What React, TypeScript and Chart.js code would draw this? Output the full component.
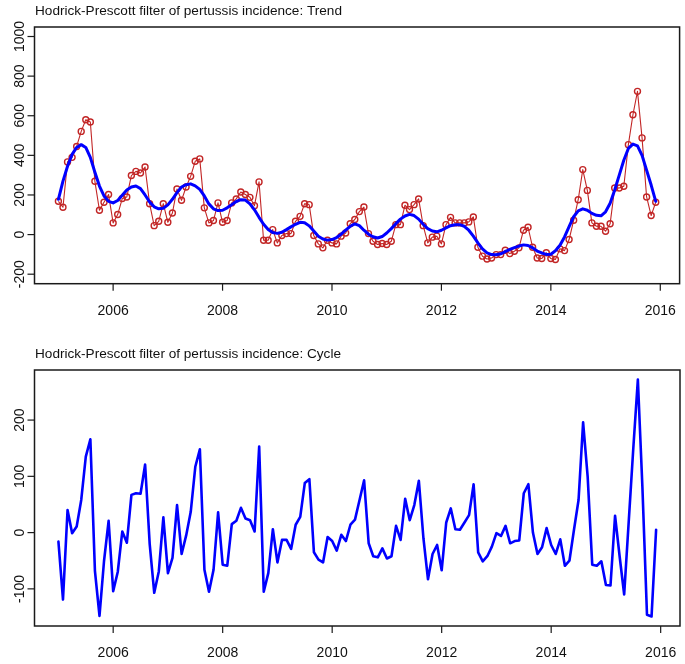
import React, { useEffect, useRef } from "react";
import { Chart, registerables } from "chart.js";

Chart.register(...registerables);

// Monthly time series (ts start = 2005, frequency = 12)
const START_YEAR = 2005;
const FREQUENCY = 12;

const observed = [
  168, 138, 367, 390, 445, 521, 580, 568, 269, 123, 163, 202,
  59, 101, 182, 190, 298, 319, 311, 341, 156, 45, 67, 156,
  62, 109, 230, 173, 240, 294, 370, 382, 135, 59, 71, 160,
  62, 71, 160, 180, 215, 202, 188, 146, 266, -29, -29, 25,
  -42, -5, 5, 5, 67, 92, 156, 151, -5, -47, -67, -29,
  -42, -47, -8, 8, 55, 76, 116, 139, 5, -34, -50, -45,
  -50, -34, 50, 50, 148, 126, 151, 180, 45, -42, -13, -8,
  -47, 50, 87, 59, 59, 59, 64, 89, -64, -109, -123, -118,
  -101, -101, -79, -96, -84, -67, 22, 37, -64, -118, -121, -92,
  -121, -126, -72, -81, -25, 72, 176, 328, 223, 59, 42, 42,
  17, 55, 235, 235, 244, 454, 605, 723, 488, 190, 96, 163,
];

const trend = [
  178, 270, 345, 405, 440, 454, 440, 390, 315, 245, 195, 168,
  160, 172, 198, 225, 240, 245, 232, 200, 165, 140, 130, 133,
  150, 178, 212, 240, 252, 256, 246, 228, 195, 155, 130, 121,
  123, 135, 151, 167, 176, 174, 155, 125, 87, 52, 26, 10,
  6, 12, 25, 39, 52, 62, 60, 44, 18, -8, -22, -28,
  -25, -15, 2, 22, 42, 54, 45, 22, 2, -11, -17, -10,
  8, 30, 55, 78, 94, 102, 96, 78, 52, 30, 18, 14,
  22, 34, 45, 50, 50, 42, 22, -8, -42, -72, -92, -101,
  -102, -97, -86, -75, -66, -58, -52, -55, -67, -83, -93, -100,
  -99, -82, -54, -12, 40, 90, 120, 130, 123, 107, 97, 95,
  115, 158, 225, 300, 375, 435, 457, 448, 400, 325, 250, 168,
];

const cycle = [
  -16, -119, 40, -1, 11, 58, 135, 166, -68, -148, -50, 21,
  -104, -70, 2, -18, 67, 70, 69, 121, -20, -107, -69, 27,
  -72, -45, 49, -38, -5, 37, 117, 148, -66, -105, -66, 36,
  -57, -59, 15, 21, 44, 25, 22, 2, 153, -105, -72, 6,
  -53, -13, -13, -29, 14, 28, 88, 95, -35, -48, -53, -8,
  -15, -32, -4, -15, 14, 23, 58, 93, -19, -42, -44, -28,
  -46, -42, 12, -13, 60, 22, 49, 92, -10, -83, -38, -22,
  -67, 18, 43, 6, 5, 18, 31, 86, -35, -51, -42, -25,
  -1, -6, 12, -19, -15, -14, 70, 86, 0, -38, -26, 8,
  -22, -38, -12, -59, -50, 5, 58, 196, 99, -57, -59, -51,
  -93, -94, 30, -42, -110, 20, 150, 272, 80, -146, -149, 5,
];

const xTicks = [2006, 2008, 2010, 2012, 2014, 2016];
const trendYTicks = [-200, 0, 200, 400, 600, 800, 1000];
const cycleYTicks = [-100, 0, 100, 200];

const X_RANGE = [2004.563, 2016.353];
const TREND_Y_RANGE = [-248, 1048];
const CYCLE_Y_RANGE = [-166, 289];

const TITLE_TREND = "Hodrick-Prescott filter of pertussis incidence: Trend";
const TITLE_CYCLE = "Hodrick-Prescott filter of pertussis incidence: Cycle";

const FONT_FAMILY = '"Liberation Sans", Arial, sans-serif';

function toPoints(values: number[]) {
  return values.map((v, i) => ({ x: START_YEAR + i / FREQUENCY, y: v }));
}

function rPlotPlugin(title: string, xt: number[], yt: number[]) {
  return {
    id: "rplot",
    afterDraw(chart: any) {
      const { ctx, chartArea: a } = chart;
      const xs = chart.scales.x;
      const ys = chart.scales.y;
      ctx.save();
      ctx.strokeStyle = "#1a1a1a";
      ctx.fillStyle = "#111";
      ctx.lineWidth = 1.5;
      ctx.strokeRect(a.left, a.top, a.right - a.left, a.bottom - a.top);
      ctx.lineWidth = 1.2;
      ctx.font = "14px " + FONT_FAMILY;
      ctx.textAlign = "center";
      ctx.textBaseline = "middle";
      xt.forEach((v) => {
        const px = xs.getPixelForValue(v);
        ctx.beginPath();
        ctx.moveTo(px, a.bottom);
        ctx.lineTo(px, a.bottom + 7);
        ctx.stroke();
        ctx.fillText(String(v), px, a.bottom + 27);
      });
      yt.forEach((v) => {
        const py = ys.getPixelForValue(v);
        ctx.beginPath();
        ctx.moveTo(a.left - 7, py);
        ctx.lineTo(a.left, py);
        ctx.stroke();
        ctx.save();
        ctx.translate(a.left - 14.5, py);
        ctx.rotate(-Math.PI / 2);
        ctx.fillText(String(v), 0, 0);
        ctx.restore();
      });
      ctx.font = "13.6px " + FONT_FAMILY;
      ctx.textAlign = "left";
      ctx.fillText(title, a.left + 0.5, a.top - 16);
      ctx.restore();
    },
  };
}

function baseScales(yRange: number[]) {
  return {
    x: { type: "linear" as const, display: false, min: X_RANGE[0], max: X_RANGE[1] },
    y: { type: "linear" as const, display: false, min: yRange[0], max: yRange[1] },
  };
}

export default function App() {
  const topRef = useRef<HTMLCanvasElement | null>(null);
  const botRef = useRef<HTMLCanvasElement | null>(null);

  useEffect(() => {
    const top = new Chart(topRef.current as HTMLCanvasElement, {
      type: "line",
      data: {
        datasets: [
          {
            label: "Trend",
            data: toPoints(trend),
            borderColor: "#0000ff",
            borderWidth: 3,
            borderJoinStyle: "round",
            borderCapStyle: "round",
            pointRadius: 0,
            tension: 0,
          },
          {
            label: "Incidence",
            data: toPoints(observed),
            borderColor: "#c22626",
            borderWidth: 1.1,
            borderJoinStyle: "round",
            pointRadius: 3,
            pointStyle: "circle",
            pointBackgroundColor: "rgba(0,0,0,0)",
            pointBorderColor: "#c22626",
            pointBorderWidth: 1.4,
            tension: 0,
          },
        ],
      },
      options: {
        responsive: false,
        animation: false,
        events: [],
        layout: { padding: { left: 34.5, top: 27, right: 5, bottom: 46.3 } },
        scales: baseScales(TREND_Y_RANGE),
        plugins: { legend: { display: false }, tooltip: { enabled: false }, title: { display: false } },
      },
      plugins: [rPlotPlugin(TITLE_TREND, xTicks, trendYTicks)],
    });

    const bot = new Chart(botRef.current as HTMLCanvasElement, {
      type: "line",
      data: {
        datasets: [
          {
            label: "Cycle",
            data: toPoints(cycle),
            borderColor: "#0000ff",
            borderWidth: 2.6,
            borderJoinStyle: "round",
            borderCapStyle: "round",
            pointRadius: 0,
            tension: 0,
          },
        ],
      },
      options: {
        responsive: false,
        animation: false,
        events: [],
        layout: { padding: { left: 34.5, top: 40, right: 5, bottom: 38 } },
        scales: baseScales(CYCLE_Y_RANGE),
        plugins: { legend: { display: false }, tooltip: { enabled: false }, title: { display: false } },
      },
      plugins: [rPlotPlugin(TITLE_CYCLE, xTicks, cycleYTicks)],
    });

    return () => {
      top.destroy();
      bot.destroy();
    };
  }, []);

  return (
    <div style={{ position: "absolute", left: 0, top: 0, width: 685, height: 664, background: "#fff" }}>
      <canvas ref={topRef} width={685} height={330} style={{ display: "block", width: 685, height: 330 }} />
      <canvas ref={botRef} width={685} height={334} style={{ display: "block", width: 685, height: 334 }} />
    </div>
  );
}
